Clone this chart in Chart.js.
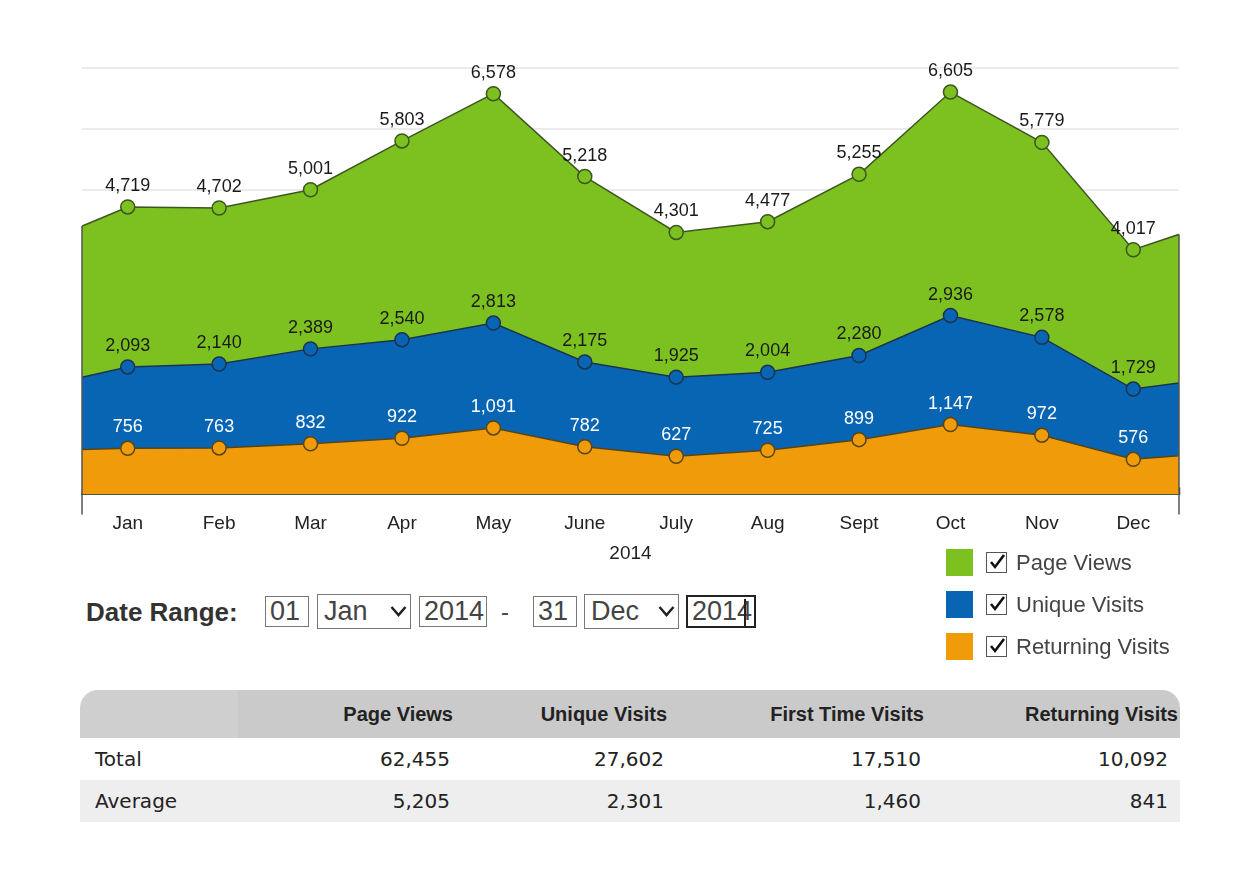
<!DOCTYPE html>
<html>
<head>
<meta charset="utf-8">
<script src="https://cdn.jsdelivr.net/npm/chart.js@4.4.1/dist/chart.umd.min.js"></script>
<style>
    body { margin: 0; width: 1248px; height: 877px; overflow: hidden; position: relative; background: #fff;
           font-family: Arial, "Liberation Sans", sans-serif; color: #333; }
    #chartWrap { position: absolute; left: 0; top: 0; width: 1248px; height: 573px; }
    .legend-swatch { position: absolute; left: 946px; width: 27px; height: 27px; }
    .legend-check { position: absolute; left: 986px; width: 19px; height: 19px; border: 1px solid #555; background: #fff; }
    .legend-check svg { position: absolute; left: 1px; top: 0; }
    .legend-text { position: absolute; left: 1016px; font-size: 22px; color: #444; line-height: 26px; }
    .date-label { position: absolute; left: 86px; top: 596px; font-size: 26px; font-weight: bold; color: #333; line-height: 32px; }
    .box { position: absolute; top: 596px; height: 29px; border: 1px solid #777; background: #fff;
           font-size: 27px; line-height: 29px; color: #444; padding-left: 4px; box-sizing: content-box; }
    .box.sel { top: 594px; height: 33px; line-height: 33px; padding-left: 6px; }
    .box.focus { border: 2px solid #222; top: 595px; }
    .box svg { position: absolute; right: 3px; top: 10px; }
    .dash { position: absolute; left: 501px; top: 596px; font-size: 24px; line-height: 32px; color: #444; }
    table { position: absolute; left: 80px; top: 690px; width: 1100px; border-collapse: separate; border-spacing: 0; table-layout: fixed; }
    th { height: 48px; background: #cacaca; font: bold 20px Arial, "Liberation Sans", sans-serif; color: #222; text-align: right; padding: 0 3px 0 0; }
    th.first { background: #cfcfcf; border-top-left-radius: 18px; }
    th.last { border-top-right-radius: 18px; padding-right: 2px; }
    td { height: 42px; font: 20px "DejaVu Sans", Verdana, sans-serif; color: #222; text-align: right; padding: 0 6px 0 0; }
    td.name { text-align: left; padding-left: 15px; }
    td.last { padding-right: 12px; }
    tr.alt td { background: #eeeeee; }
</style>
</head>
<body>
<div id="chartWrap"><canvas id="trafficChart" width="1248" height="573"></canvas></div>

<div id="legend"></div>

<div class="date-label">Date Range:</div>
<div class="box" style="left:265px;width:38px;">01</div>
<div class="box sel" style="left:317px;width:86px;">Jan<svg width="17" height="12"><polyline points="1.5,2 8.5,10 15.5,2" fill="none" stroke="#222" stroke-width="2.5"/></svg></div>
<div class="box" style="left:419px;width:62px;">2014</div>
<div class="dash">-</div>
<div class="box" style="left:533px;width:38px;">31</div>
<div class="box sel" style="left:584px;width:87px;">Dec<svg width="17" height="12"><polyline points="1.5,2 8.5,10 15.5,2" fill="none" stroke="#222" stroke-width="2.5"/></svg></div>
<div class="box focus" style="left:686px;width:62px;">2014<span style="position:absolute;left:56px;top:2px;width:2px;height:27px;background:#222;"></span></div>

<table id="statsTable"></table>

<script>
    // Monthly traffic, 2014.
    const months = ['Jan', 'Feb', 'Mar', 'Apr', 'May', 'June', 'July', 'Aug', 'Sept', 'Oct', 'Nov', 'Dec'];
    const yearTitle = '2014';
    const pageViews = [4719, 4702, 5001, 5803, 6578, 5218, 4301, 4477, 5255, 6605, 5779, 4017];
    const uniqueVisits = [2093, 2140, 2389, 2540, 2813, 2175, 1925, 2004, 2280, 2936, 2578, 1729];
    const returningVisits = [756, 763, 832, 922, 1091, 782, 627, 725, 899, 1147, 972, 576];

    // Neighbouring months (Dec 2013, Jan 2015); only their slope shows at the clipped edges.
    const pageViewsEdge = [4090, 4520];
    const uniqueVisitsEdge = [1750, 1930];
    const returningVisitsEdge = [720, 690];

    const yMax = 7000;
    const yStep = 1000;

    const seriesNames = ['Page Views', 'Unique Visits', 'Returning Visits'];
    const tableColumns = ['Page Views', 'Unique Visits', 'First Time Visits', 'Returning Visits'];
    const tableRowNames = ['Total', 'Average'];
    const tableTotals = [62455, 27602, 17510, 10092];
    const tableAverages = [5205, 2301, 1460, 841];

    const colors = {
        green: '#7cc11f', greenLine: '#3d5622',
        blue: '#0765b3', blueLine: '#1c3350',
        orange: '#f09c0a', orangeLine: '#5a4416'
    };

    function toPoints(values, edge) {
        const pts = [{x: 0, y: edge[0]}];
        values.forEach(function (v, i) { pts.push({x: i + 1, y: v}); });
        pts.push({x: months.length + 1, y: edge[1]});
        return pts;
    }

    function isMonth(ctx) {
        const raw = ctx.raw;
        return raw && raw.x >= 1 && raw.x <= months.length;
    }

    function series(label, values, edge, fillColor, lineColor, labelColor, order) {
        return {
            label: label,
            data: toPoints(values, edge),
            fill: 'origin',
            backgroundColor: fillColor,
            borderColor: lineColor,
            borderWidth: 1.5,
            tension: 0,
            pointBackgroundColor: fillColor,
            pointBorderColor: lineColor,
            pointBorderWidth: 1.5,
            pointRadius: function (ctx) { return isMonth(ctx) ? 7 : 0; },
            order: order,
            labelColor: labelColor
        };
    }

    // Value labels above each month point.
    const valueLabels = {
        id: 'valueLabels',
        afterDatasetsDraw: function (chart) {
            const ctx = chart.ctx;
            ctx.save();
            ctx.font = '18px Arial, "Liberation Sans", sans-serif';
            ctx.textAlign = 'center';
            ctx.textBaseline = 'middle';
            chart.data.datasets.forEach(function (ds, di) {
                const meta = chart.getDatasetMeta(di);
                meta.data.forEach(function (pt, i) {
                    const raw = ds.data[i];
                    if (raw.x < 1 || raw.x > months.length) return;
                    ctx.fillStyle = ds.labelColor;
                    ctx.fillText(raw.y.toLocaleString('en-US'), pt.x, pt.y - 21);
                });
            });
            ctx.restore();
        }
    };

    // Vertical edge lines from the top series down below the axis.
    const edgeLines = {
        id: 'edgeLines',
        afterDatasetsDraw: function (chart) {
            const ctx = chart.ctx;
            const area = chart.chartArea;
            const pts = chart.getDatasetMeta(0).data;
            function yAt(px) {
                for (let i = 0; i < pts.length - 1; i++) {
                    if (pts[i].x <= px && pts[i + 1].x >= px) {
                        const t = (px - pts[i].x) / (pts[i + 1].x - pts[i].x);
                        return pts[i].y + t * (pts[i + 1].y - pts[i].y);
                    }
                }
                return area.top;
            }
            ctx.save();
            ctx.strokeStyle = '#555';
            ctx.lineWidth = 1.5;
            [area.left, area.right].forEach(function (px) {
                ctx.beginPath();
                ctx.moveTo(px, yAt(px));
                ctx.lineTo(px, area.bottom + 20);
                ctx.stroke();
            });
            ctx.restore();
        }
    };

    const ctx = document.getElementById('trafficChart').getContext('2d');
    new Chart(ctx, {
        type: 'line',
        data: {
            datasets: [
                series('Page Views', pageViews, pageViewsEdge, colors.green, colors.greenLine, '#1a1a1a', 3),
                series('Unique Visits', uniqueVisits, uniqueVisitsEdge, colors.blue, colors.blueLine, '#1a1a1a', 2),
                series('Returning Visits', returningVisits, returningVisitsEdge, colors.orange, colors.orangeLine, '#ffffff', 1)
            ]
        },
        options: {
            responsive: false,
            animation: false,
            events: [],
            layout: { padding: { left: 82, right: 69, top: 68, bottom: 4 } },
            plugins: { legend: { display: false }, tooltip: { enabled: false } },
            scales: {
                x: {
                    type: 'linear',
                    min: 0.5,
                    max: months.length + 0.5,
                    z: 1,
                    afterBuildTicks: function (axis) {
                        const ticks = [];
                        for (let i = 0; i <= months.length; i++) ticks.push({value: i + 0.5});
                        axis.ticks = ticks;
                    },
                    grid: { drawOnChartArea: false, drawTicks: true, tickLength: -7, tickColor: '#333', tickWidth: 1.5 },
                    border: { display: true, color: '#333', width: 2 },
                    ticks: {
                        autoSkip: false,
                        maxRotation: 0,
                        padding: 25,
                        labelOffset: 45.7,
                        color: '#222',
                        font: { family: 'Arial, "Liberation Sans", sans-serif', size: 19 },
                        callback: function (value, index) { return months[index] || ''; }
                    },
                    title: {
                        display: true,
                        text: yearTitle,
                        color: '#222',
                        font: { family: 'Arial, "Liberation Sans", sans-serif', size: 19 },
                        padding: { top: -18, bottom: 4 }
                    }
                },
                y: {
                    min: 0,
                    max: yMax,
                    ticks: { display: false, stepSize: yStep },
                    grid: { color: '#ebebeb', lineWidth: 2, drawTicks: false },
                    border: { display: false }
                }
            }
        },
        plugins: [valueLabels, edgeLines]
    });

    // Legend with check boxes.
    const legend = document.getElementById('legend');
    const legendColors = [colors.green, colors.blue, colors.orange];
    seriesNames.forEach(function (name, i) {
        const top = 549 + i * 42;
        legend.insertAdjacentHTML('beforeend',
            '<div class="legend-swatch" style="top:' + top + 'px;background:' + legendColors[i] + '"></div>' +
            '<div class="legend-check" style="top:' + (top + 3) + 'px"><svg width="18" height="18"><polyline points="3,9 7,14 16,2" fill="none" stroke="#111" stroke-width="2.6"/></svg></div>' +
            '<div class="legend-text" style="top:' + (top + 1) + 'px">' + name + '</div>');
    });

    // Summary table.
    const fmt = function (n) { return n.toLocaleString('en-US'); };
    let html = '<colgroup><col style="width:158px"><col style="width:218px"><col style="width:214px"><col style="width:257px"><col style="width:253px"></colgroup>';
    html += '<tr><th class="first"></th>';
    tableColumns.forEach(function (c, i) {
        html += '<th' + (i === tableColumns.length - 1 ? ' class="last"' : '') + '>' + c + '</th>';
    });
    html += '</tr>';
    [tableTotals, tableAverages].forEach(function (row, r) {
        html += '<tr' + (r === 1 ? ' class="alt"' : '') + '><td class="name">' + tableRowNames[r] + '</td>';
        row.forEach(function (v, i) {
            html += '<td' + (i === row.length - 1 ? ' class="last"' : '') + '>' + fmt(v) + '</td>';
        });
        html += '</tr>';
    });
    document.getElementById('statsTable').innerHTML = html;
</script>
</body>
</html>
